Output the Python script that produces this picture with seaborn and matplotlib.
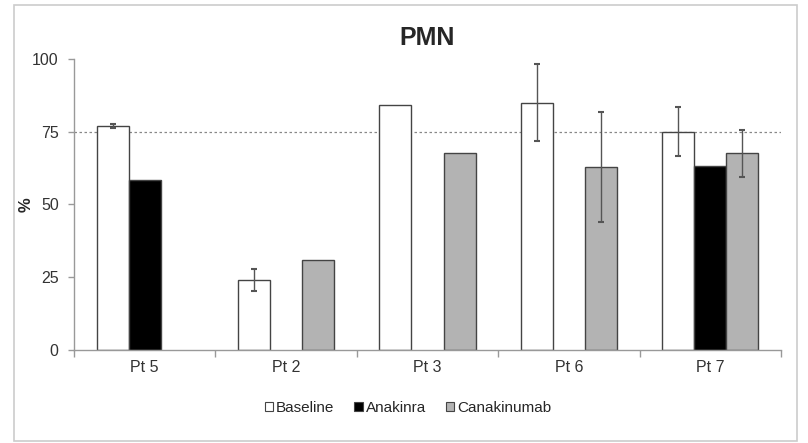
import matplotlib
matplotlib.use("Agg")
import matplotlib.pyplot as plt
import seaborn as sns
import pandas as pd
import numpy as np
from matplotlib.patches import Rectangle, Patch

patients = ["Pt 5", "Pt 2", "Pt 3", "Pt 6", "Pt 7"]
treatments = ["Baseline", "Anakinra", "Canakinumab"]
baseline = [77.0, 24.1, 84.3, 85.0, 75.0]
baseline_err = [0.6, 3.7, np.nan, 13.3, 8.5]
anakinra = [58.4, np.nan, np.nan, np.nan, 63.2]
anakinra_err = [np.nan, np.nan, np.nan, np.nan, np.nan]
canakinumab = [np.nan, 31.0, 67.7, 62.9, 67.6]
canakinumab_err = [np.nan, np.nan, np.nan, 19.0, 8.0]
reference_line = 75
yticks = [0, 25, 50, 75, 100]

colors = {"Baseline": "#ffffff", "Anakinra": "#000000", "Canakinumab": "#b3b3b3"}

rows = []
for t, vals, errs in zip(treatments, [baseline, anakinra, canakinumab],
                         [baseline_err, anakinra_err, canakinumab_err]):
    for p, v, e in zip(patients, vals, errs):
        rows.append({"Patient": p, "Treatment": t, "Value": v, "Err": e})
df = pd.DataFrame(rows)

sns.set_style("white")
plt.rcParams["font.family"] = ["Liberation Sans", "DejaVu Sans"]

fig = plt.figure(figsize=(8.08, 4.43), dpi=100)
ax = fig.add_axes([0.0916, 0.21, 0.875, 0.6568])

width = 0.68
sns.barplot(data=df.dropna(subset=["Value"]), x="Patient", y="Value", hue="Treatment",
            order=patients, hue_order=treatments, palette=colors,
            width=width, edgecolor="#444444", linewidth=1.0, errorbar=None,
            legend=False, ax=ax, saturation=1)

nh = len(treatments)
for h, t in enumerate(treatments):
    sub = df[df["Treatment"] == t]
    for i, p in enumerate(patients):
        r = sub[sub["Patient"] == p].iloc[0]
        if not np.isnan(r["Value"]) and not np.isnan(r["Err"]):
            x = i + (h - (nh - 1) / 2) * width / nh
            ax.errorbar(x, r["Value"], yerr=r["Err"], color="#555555",
                        elinewidth=1.0, capsize=2.5, capthick=1.5, zorder=5)

ax.axhline(reference_line, color="#888888", linestyle=(0, (2, 2)), linewidth=0.9, zorder=0.5)

ax.set_ylim(0, 100)
ax.set_xlim(-0.5, len(patients) - 0.5)
ax.set_yticks(yticks)
ax.set_yticklabels([str(v) for v in yticks], fontsize=11.5, color="#333333")
ax.set_xticks(range(len(patients)))
ax.set_xticklabels(patients, fontsize=11.5, color="#333333")
ax.set_xlabel("")
ax.set_ylabel("%", fontsize=12, fontweight="bold")
ax.yaxis.set_label_coords(-0.057, 0.5)

for s in ["top", "right"]:
    ax.spines[s].set_visible(False)
for s in ["left", "bottom"]:
    ax.spines[s].set_color("#999999")
    ax.spines[s].set_linewidth(1.0)

ax.tick_params(axis="y", length=4, width=1, color="#999999", direction="out", left=True, pad=7)
ax.tick_params(axis="x", length=0, pad=7)
# category boundary ticks
ax.set_xticks(np.arange(-0.5, len(patients), 1.0), minor=True)
ax.tick_params(axis="x", which="minor", length=5, width=1, color="#999999", direction="out", bottom=True)

ax.set_title("PMN", fontsize=18, fontweight="bold", pad=10)

handles = [Patch(facecolor=colors[t], edgecolor="#444444", linewidth=0.8) for t in treatments]
fig.legend(handles, treatments, loc="center", bbox_to_anchor=(0.505, 0.079), ncol=3,
           frameon=False, fontsize=11, handlelength=0.55, handleheight=0.55,
           handletextpad=0.2, columnspacing=1.3)

fig.patches.append(Rectangle((14 / 808, 2 / 443), 783 / 808, 436 / 443,
                             transform=fig.transFigure, fill=False,
                             edgecolor="#cccccc", linewidth=1.2))

fig.savefig("out.png", dpi=100)
